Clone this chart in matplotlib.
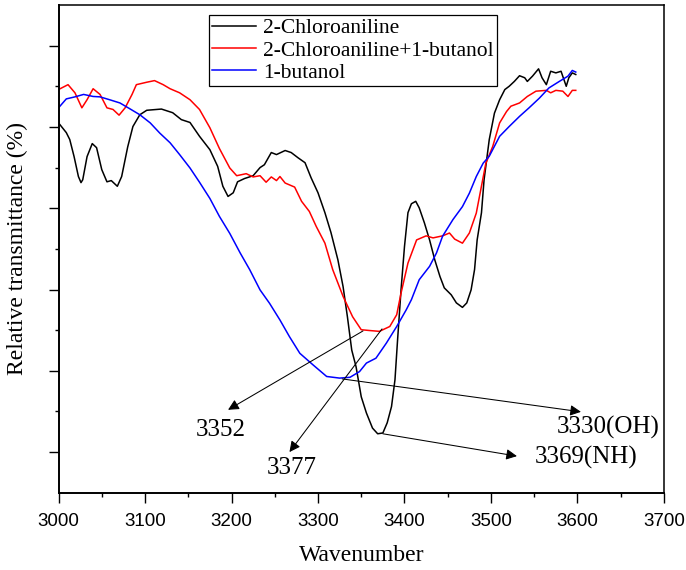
import matplotlib
matplotlib.use("Agg")
import matplotlib.pyplot as plt
from matplotlib.ticker import MultipleLocator, NullFormatter

# FTIR spectra, wavenumber vs relative transmittance (arbitrary units)
wn_cla = [3000, 3009, 3013, 3018, 3023, 3026, 3028, 3033, 3039, 3044, 3050, 3056, 3061, 3068,
          3073, 3080, 3086, 3094, 3102, 3119, 3132, 3142, 3152, 3163, 3175, 3184, 3190, 3196,
          3202, 3207, 3215, 3225, 3233, 3238, 3246, 3252, 3262, 3269, 3277, 3285, 3292, 3300,
          3308, 3315, 3323, 3329, 3334, 3339, 3344, 3350, 3356, 3363, 3369, 3375, 3380, 3385,
          3389, 3392, 3396, 3400, 3404, 3408, 3413, 3417, 3423, 3429, 3435, 3441, 3446, 3454,
          3460, 3467, 3472, 3477, 3481, 3484, 3489, 3492, 3498, 3504, 3510, 3516, 3521, 3527,
          3533, 3539, 3542, 3548, 3555, 3559, 3564, 3569, 3575, 3581, 3587, 3590, 3594, 3598]
t_cla = [91.0, 88.6, 86.9, 82.7, 77.8, 76.3, 77.0, 82.7, 85.9, 84.9, 79.5, 76.5, 76.8, 75.4,
         77.8, 85.1, 90.1, 93.0, 94.1, 94.4, 93.5, 91.8, 91.1, 87.7, 84.4, 80.3, 75.4, 72.9,
         73.8, 76.5, 77.3, 78.0, 80.0, 80.7, 83.7, 83.2, 84.2, 83.7, 82.4, 81.2, 77.5, 73.8,
         68.9, 64.0, 57.3, 50.7, 43.3, 35.1, 31.0, 23.6, 19.6, 15.9, 14.5, 14.7, 17.2, 21.2,
         27.8, 37.6, 49.9, 60.6, 68.9, 71.1, 71.7, 70.1, 66.4, 62.2, 57.3, 53.2, 50.4, 48.7,
         46.7, 45.6, 46.7, 49.9, 54.9, 62.2, 68.9, 77.0, 86.9, 93.4, 96.7, 99.2, 100.0, 101.2,
         102.6, 102.1, 101.2, 102.5, 104.3, 102.1, 100.4, 103.7, 103.3, 103.7, 100.0, 102.1, 103.3, 102.9]

wn_mix = [3000, 3011, 3019, 3027, 3033, 3040, 3048, 3056, 3063, 3070, 3077, 3085, 3090, 3102,
          3111, 3121, 3129, 3140, 3152, 3163, 3175, 3186, 3198, 3206, 3217, 3225, 3233, 3240,
          3246, 3252, 3256, 3262, 3273, 3281, 3290, 3298, 3308, 3317, 3329, 3340, 3350, 3360,
          3371, 3383, 3391, 3396, 3404, 3414, 3425, 3433, 3444, 3452, 3458, 3467, 3475, 3483,
          3494, 3502, 3510, 3518, 3523, 3533, 3542, 3552, 3564, 3569, 3575, 3583, 3589, 3594, 3598]
t_mix = [99.2, 100.4, 98.4, 94.7, 96.7, 99.4, 98.0, 94.7, 94.3, 92.9, 94.7, 98.0, 100.4, 101.0,
         101.4, 100.4, 99.4, 98.4, 96.7, 94.3, 89.8, 84.7, 79.9, 78.0, 78.5, 77.7, 78.0, 76.4,
         77.7, 76.8, 77.8, 76.2, 75.2, 71.7, 69.2, 65.5, 61.4, 54.9, 48.3, 43.3, 40.1, 39.9,
         39.7, 40.9, 43.8, 49.1, 56.5, 62.2, 63.2, 62.7, 63.2, 63.9, 62.4, 61.4, 63.9, 68.8,
         81.0, 85.2, 91.0, 93.8, 95.1, 95.9, 97.5, 98.8, 99.0, 98.4, 99.0, 98.8, 97.5, 99.0, 99.0]

wn_but = [3000, 3009, 3019, 3029, 3040, 3048, 3059, 3071, 3083, 3094, 3106, 3117, 3129, 3140,
          3152, 3163, 3175, 3186, 3198, 3210, 3221, 3233, 3244, 3256, 3267, 3279, 3294, 3310,
          3325, 3337, 3348, 3356, 3367, 3379, 3391, 3402, 3408, 3417, 3429, 3437, 3444, 3456,
          3467, 3475, 3483, 3491, 3498, 3510, 3521, 3533, 3544, 3556, 3567, 3579, 3589, 3594, 3598]
t_but = [94.7, 96.9, 97.4, 98.0, 97.5, 97.4, 96.7, 95.9, 94.4, 93.0, 91.0, 88.5, 86.1, 83.2,
         79.9, 76.4, 72.4, 68.0, 63.8, 59.0, 54.9, 49.9, 46.6, 42.5, 38.4, 34.3, 31.5, 28.6,
         28.2, 28.4, 29.8, 31.9, 33.1, 36.8, 40.9, 45.0, 47.5, 52.4, 55.7, 59.0, 63.1, 67.2,
         70.4, 73.7, 77.8, 81.1, 82.8, 87.7, 90.1, 92.6, 94.7, 97.1, 99.6, 101.2, 102.5, 103.9, 103.5]

series = [(wn_cla, t_cla), (wn_mix, t_mix), (wn_but, t_but)]
labels = ['2-Chloroaniline', '2-Chloroaniline+1-butanol', '1-butanol']
colors = ['black', 'red', 'blue']

# peak annotations: label, point on curve, arrow tip, label centre
peak_labels = ['3352', '3377', '3330(OH)', '3369(NH)']
peak_xy = [(3352, 39.8), (3374, 40.3), (3328, 28.0), (3375, 14.5)]
tip_xy = [(3196, 20.4), (3267, 10.0), (3604, 19.9), (3530, 9.0)]
text_xy = [(3187, 15.4), (3270, 6.0), (3635, 16.0), (3610, 8.6)]

serif = 'Liberation Serif'
sans = 'Liberation Sans'

fig = plt.figure(figsize=(6.86, 5.70), dpi=100)
ax = fig.add_axes([0.0853, 0.1356, 0.8826, 0.8556])

for (x, y), lab, c in zip(series, labels, colors):
    ax.plot(x, y, color=c, lw=1.1, label=lab)

for lab, p, tip, t in zip(peak_labels, peak_xy, tip_xy, text_xy):
    ax.annotate('', xy=tip, xytext=p,
                arrowprops=dict(arrowstyle='-|>', color='black', lw=0.75,
                                mutation_scale=16, shrinkA=0, shrinkB=0))
    ax.text(t[0], t[1], lab, ha='center', va='center', fontsize=18, family=serif)

ax.set_xlim(3000, 3700)
ax.set_ylim(0, 120)
ax.xaxis.set_major_locator(MultipleLocator(100))
ax.xaxis.set_minor_locator(MultipleLocator(50))
ax.set_yticks([10, 30, 50, 70, 90, 110])
ax.set_yticks([20, 40, 60, 80, 100], minor=True)
ax.yaxis.set_major_formatter(NullFormatter())

ax.tick_params(which='major', direction='out', length=7, width=1.0)
ax.tick_params(which='minor', direction='out', length=3, width=1.0)
ax.tick_params(axis='x', labelsize=13.5, pad=7.5)
for t in ax.get_xticklabels():
    t.set_family(sans)

for s in ax.spines.values():
    s.set_linewidth(1.1)
ax.spines['left'].set_linewidth(1.4)
ax.spines['bottom'].set_linewidth(1.4)

ax.set_xlabel('Wavenumber', fontsize=17, family=serif, labelpad=11)
ax.set_ylabel('Relative transmittance (%)', fontsize=17, family=serif)
ax.yaxis.set_label_coords(-0.051, 0.5)

leg = ax.legend(loc='upper left', bbox_to_anchor=(0.2486, 0.9795), borderaxespad=0,
                fancybox=False, framealpha=1, edgecolor='black',
                prop={'family': serif, 'size': 15.5},
                handlelength=2.05, handletextpad=0.3, labelspacing=0.1, borderpad=0.15)
leg.get_frame().set_linewidth(0.9)

fig.savefig('out.png', dpi=100)
